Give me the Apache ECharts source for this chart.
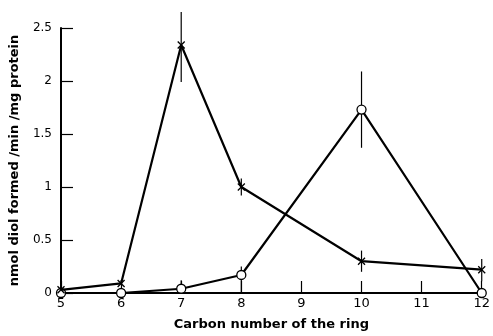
<!DOCTYPE html>
<html><head><meta charset="utf-8">
<script src="https://cdn.jsdelivr.net/npm/echarts@6/dist/echarts.min.js"></script>
<style>html,body{margin:0;padding:0;background:#fff}#c{width:493px;height:336px}</style>
</head><body><div id="c"></div>
<script>
var carbons = [5, 6, 7, 8, 10, 12];
var crossValues = [0.03, 0.09, 2.34, 1.0, 0.30, 0.22];
var crossLow = [0.03, 0.09, 1.99, 0.92, 0.20, 0.11];
var crossHigh = [0.03, 0.12, 2.65, 1.08, 0.40, 0.32];
var circleValues = [0.0, 0.0, 0.04, 0.17, 1.73, 0.0];
var circleLow = [0.0, 0.0, 0.04, 0.0, 1.37, 0.0];
var circleHigh = [0.0, 0.0, 0.12, 0.25, 2.09, 0.0];
var xTicks = [5, 6, 7, 8, 9, 10, 11, 12];
var yTicks = [0, 0.5, 1, 1.5, 2, 2.5];

function pairs(xs, ys) { return xs.map(function (x, i) { return [x, ys[i]]; }); }
function errData(xs, lo, hi) { return xs.map(function (x, i) { return [x, lo[i], hi[i]]; }); }
function errRender(params, api) {
  var p1 = api.coord([api.value(0), api.value(1)]);
  var p2 = api.coord([api.value(0), api.value(2)]);
  return { type: 'line', shape: { x1: p1[0], y1: p1[1], x2: p2[0], y2: p2[1] },
    style: { stroke: '#000', lineWidth: 1.2 } };
}
var font = 'DejaVu Sans';
var chart = echarts.init(document.getElementById('c'));
chart.setOption({
  animation: false,
  grid: { left: 60, right: 8, top: 28, bottom: 42 },
  xAxis: {
    type: 'value', min: 5, max: 12, interval: 1,
    name: 'Carbon number of the ring', nameLocation: 'middle', nameGap: 25,
    nameTextStyle: { color: '#000', fontFamily: font, fontWeight: 'bold', fontSize: 13 },
    axisLine: { lineStyle: { color: '#000', width: 2 } },
    axisTick: { inside: true, length: 12, lineStyle: { color: '#000', width: 1.2 } },
    axisLabel: { color: '#000', fontFamily: font, fontSize: 13, margin: 4,
      formatter: function (v) { return xTicks.indexOf(v) >= 0 ? String(v) : ''; } },
    splitLine: { show: false }
  },
  yAxis: {
    type: 'value', min: 0, max: 2.5, interval: 0.5,
    name: 'nmol diol formed /min /mg protein', nameLocation: 'middle', nameGap: 40,
    nameTextStyle: { color: '#000', fontFamily: font, fontWeight: 'bold', fontSize: 13 },
    axisLine: { show: true, lineStyle: { color: '#000', width: 2 } },
    axisTick: { show: true, inside: true, length: 12, lineStyle: { color: '#000', width: 1.2 } },
    axisLabel: { color: '#000', fontFamily: font, fontSize: 12, margin: 9,
      formatter: function (v) { return yTicks.indexOf(v) >= 0 ? String(v) : ''; } },
    splitLine: { show: false }
  },
  series: [
    { type: 'custom', renderItem: errRender, data: errData(carbons, crossLow, crossHigh), z: 1, clip: false },
    { type: 'custom', renderItem: errRender, data: errData(carbons, circleLow, circleHigh), z: 1, clip: false },
    { type: 'line', data: pairs(carbons, circleValues), z: 2,
      lineStyle: { color: '#000', width: 2.2 },
      symbol: 'circle', symbolSize: 9,
      itemStyle: { color: '#fff', borderColor: '#000', borderWidth: 1.3 } },
    { type: 'line', data: pairs(carbons, crossValues), z: 3,
      lineStyle: { color: '#000', width: 2.2 },
      symbol: 'path://M0,0L10,10M10,0L0,10', symbolSize: 7,
      itemStyle: { color: 'rgba(0,0,0,0)', borderColor: '#000', borderWidth: 1.3 } }
  ]
});
</script></body></html>
